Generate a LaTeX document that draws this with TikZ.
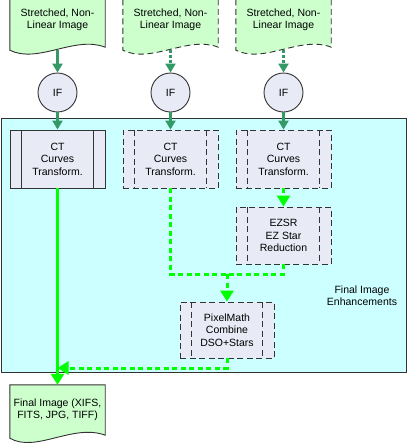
\documentclass[tikz,border=0pt]{standalone}
\usepackage{fontspec}
\setmainfont{Liberation Sans}
\usetikzlibrary{arrows.meta, calc, backgrounds}
\definecolor{docgreen}{HTML}{CCFFCC}
\definecolor{boxlav}{HTML}{E8EAF6}
\definecolor{stagecyan}{HTML}{CCFFFF}
\definecolor{flowgreen}{HTML}{339966}
\definecolor{limegreen}{HTML}{00FF00}

\begin{document}
\begin{tikzpicture}[
    x=1pt, y=-1pt,
    font=\fontsize{10.5}{12.5}\selectfont,
    doc/.style={rectangle, minimum width=95pt, minimum height=60pt, align=center, inner sep=0pt},
    docline/.style={draw=black!80, fill=docgreen, line width=0.9pt},
    dashline/.style={dash pattern=on 6pt off 3.5pt},
    decision/.style={circle, draw=black!80, fill=boxlav, line width=0.9pt, minimum size=39pt, inner sep=0pt},
    proc/.style={rectangle, draw=black!80, fill=boxlav, line width=0.9pt, minimum width=95pt, minimum height=58pt, align=center, inner sep=0pt, #1,
        path picture={\draw[black!80, line width=0.9pt, #1]
            ([xshift=11.5pt]path picture bounding box.north west) -- ([xshift=11.5pt]path picture bounding box.south west)
            ([xshift=-11.5pt]path picture bounding box.north east) -- ([xshift=-11.5pt]path picture bounding box.south east);}},
    proc/.default=solid,
    stage/.style={rectangle, draw=black!80, fill=stagecyan, line width=0.9pt, minimum width=405pt, minimum height=254pt},
    feed/.style={-{Triangle[width=10pt, length=9pt]}, line width=2.2pt, draw=flowgreen, color=flowgreen},
    feeddash/.style={feed, dash pattern=on 3pt off 2pt},
    result/.style={line width=3pt, draw=limegreen, color=limegreen},
    resultarrow/.style={result, -{Triangle[width=13pt, length=11pt]}},
    resultdash/.style={result, dash pattern=on 5pt off 3.5pt}
]
\useasboundingbox (0,0) rectangle (407,445);

% ==================== Enhancement stage ====================
\node[stage] (Stage) at (203.5, 245) {};
\node[align=center] (StageLabel) at (362, 295.5) {Final Image\\Enhancements};

% ==================== Inputs ====================
\node[doc] (Src1) at (57.5, 20) {Stretched, Non-\\Linear Image};
\node[doc] (Src2) at (170.5, 20) {Stretched, Non-\\Linear Image};
\node[doc] (Src3) at (283.5, 20) {Stretched, Non-\\Linear Image};

\node[decision] (If1) at (57.5, 92.5) {IF};
\node[decision] (If2) at (170.5, 92.5) {IF};
\node[decision] (If3) at (283.5, 92.5) {IF};

% ==================== Processes ====================
\node[proc] (Ct1) at (57.5, 159) {CT\\Curves\\Transform.};
\node[proc={dashline}] (Ct2) at (170.5, 159) {CT\\Curves\\Transform.};
\node[proc={dashline}] (Ct3) at (283.5, 159) {CT\\Curves\\Transform.};
\node[proc={dashline}, minimum height=57pt] (Ezsr) at (283.5, 235.5) {EZSR\\EZ Star\\Reduction};
\node[proc={dashline}, minimum width=94pt, minimum height=56pt] (PixMath) at (227, 330) {PixelMath\\Combine\\DSO+Stars};

% ==================== Output ====================
\node[doc, minimum height=50pt] (Final) at (57.5, 410) {Final Image (XIFS,\\FITS, JPG, TIFF)};

% document outlines
\begin{scope}[on background layer]
\draw[docline] (Src1.north west) -- (Src1.south west) .. controls +(28,14) and +(-30,-12) .. ($(Src1.south east)+(0,-3)$) -- (Src1.north east) -- cycle;
\draw[docline, dashline] (Src2.north west) -- (Src2.south west) .. controls +(28,14) and +(-30,-12) .. ($(Src2.south east)+(0,-3)$) -- (Src2.north east) -- cycle;
\draw[docline, dashline] (Src3.north west) -- (Src3.south west) .. controls +(28,14) and +(-30,-12) .. ($(Src3.south east)+(0,-3)$) -- (Src3.north east) -- cycle;
\draw[docline] (Final.north west) -- ($(Final.south west)+(0,3)$) .. controls +(26,15) and +(-32,-12) .. ($(Final.south east)+(0,0)$) -- (Final.north east) -- cycle;
\end{scope}

% Input connections
\draw[feed] (Src1.south) -- (If1.north);
\draw[feeddash] (Src2.south) -- (If2.north);
\draw[feeddash] (Src3.south) -- (If3.north);
\draw[feed] (If1.south) -- (Ct1.north);
\draw[feed] (If2.south) -- (Ct2.north);
\draw[feed] (If3.south) -- (Ct3.north);

% Result connections
\coordinate (Merge) at (227, 274);
\coordinate (Join) at (57.5, 368);
\draw[resultarrow] (Ct1.south) -- (Final.north);
\draw[resultdash, -{Triangle[width=13pt, length=11pt]}] (Ct3.south) -- (Ezsr.north);
\draw[resultdash] (Ct2.south) |- (Merge);
\draw[resultdash] (Ezsr.south) |- (Merge);
\draw[resultdash, -{Triangle[width=13pt, length=11pt]}] (Merge) -- (PixMath.north);
\draw[resultdash, -{Triangle[width=13pt, length=11pt]}] (PixMath.south) |- (Join);

\end{tikzpicture}
\end{document}
